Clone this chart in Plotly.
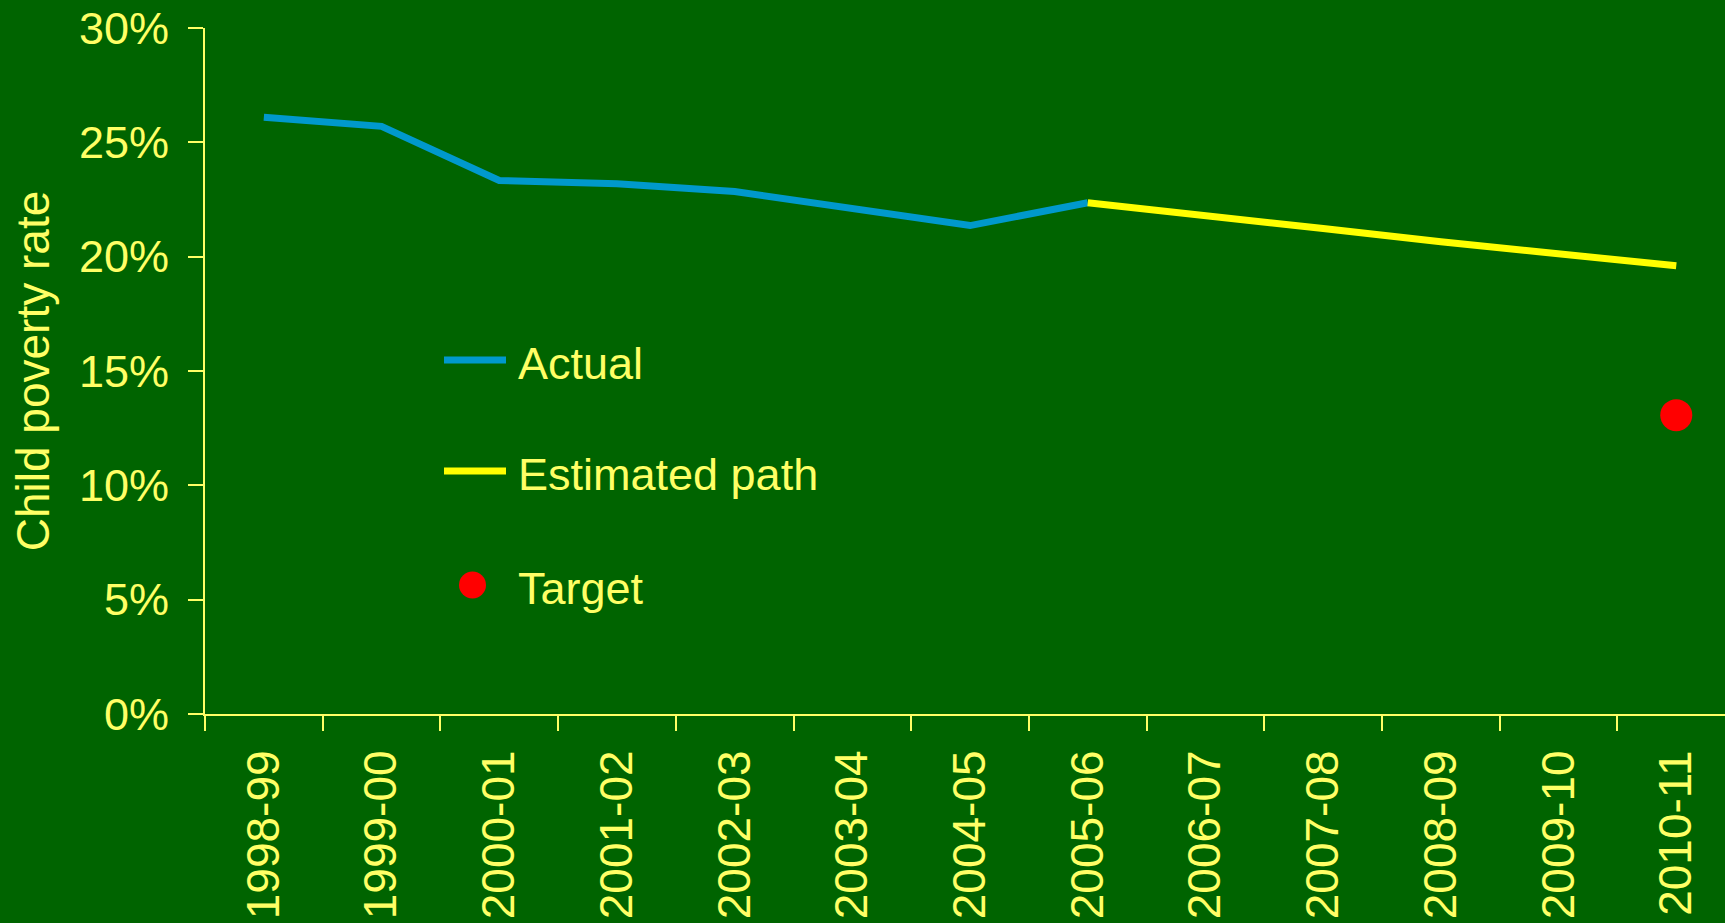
import plotly.graph_objects as go

# Années fiscales (axe des catégories)
annees = ["1998-99", "1999-00", "2000-01", "2001-02", "2002-03", "2003-04", "2004-05",
          "2005-06", "2006-07", "2007-08", "2008-09", "2009-10", "2010-11"]

# Taux réel, puis trajectoire estimée
annees_reel = annees[:8]
taux_reel = [0.261, 0.257, 0.2333, 0.2319, 0.2285, 0.221, 0.2136, 0.2236]

annees_estime = annees[7:]
taux_estime = [0.2236, 0.2176, 0.2123, 0.2065, 0.201, 0.196]

# Objectif 2010-11
annee_cible = ["2010-11"]
taux_cible = [0.1307]

JAUNE = "#FFFF66"
FOND = "#006400"
BLEU = "#0099CC"
JAUNE_VIF = "#FFFF00"
ROUGE = "#FF0000"
POLICE = "Liberation Sans, Arial, sans-serif"

# Zone de tracé en pixels (pour placer la légende faite main)
G, D, H, B = 205, 0, 28, 209
LARGEUR, HAUTEUR = 1725, 923


def px_x(x):
    return (x - G) / (LARGEUR - G - D)


def px_y(y):
    return (HAUTEUR - B - y) / (HAUTEUR - H - B)


fig = go.Figure()

fig.add_trace(go.Scatter(
    x=annees_reel, y=taux_reel,
    mode="lines",
    line=dict(color=BLEU, width=7),
    name="Actual",
))

fig.add_trace(go.Scatter(
    x=annees_estime, y=taux_estime,
    mode="lines",
    line=dict(color=JAUNE_VIF, width=7),
    name="Estimated path",
))

fig.add_trace(go.Scatter(
    x=annee_cible, y=taux_cible,
    mode="markers",
    marker=dict(color=ROUGE, size=32),
    name="Target",
))

# Légende faite main (les symboles de la légende Plotly sont trop petits)
legende = [("Actual", BLEU, "ligne", 360), ("Estimated path", JAUNE_VIF, "ligne", 471),
           ("Target", ROUGE, "point", 585)]
for texte, couleur, genre, yy in legende:
    if genre == "ligne":
        fig.add_shape(type="line", xref="paper", yref="paper",
                      x0=px_x(444), x1=px_x(506), y0=px_y(yy), y1=px_y(yy),
                      line=dict(color=couleur, width=7))
    else:
        fig.add_shape(type="circle", xref="paper", yref="paper",
                      x0=px_x(459), x1=px_x(486), y0=px_y(yy - 13.5), y1=px_y(yy + 13.5),
                      fillcolor=couleur, line=dict(width=0))
    fig.add_annotation(text=texte, xref="paper", yref="paper",
                       x=px_x(516), y=px_y(yy + 3), xanchor="left", yanchor="middle",
                       showarrow=False, font=dict(size=45, color=JAUNE))

fig.update_layout(
    width=LARGEUR,
    height=HAUTEUR,
    margin=dict(l=G, r=D, t=H, b=B),
    plot_bgcolor=FOND,
    paper_bgcolor=FOND,
    font=dict(family=POLICE, size=45, color=JAUNE),
    showlegend=False,
    xaxis=dict(
        type="category",
        categoryorder="array",
        categoryarray=annees,
        range=[-0.5, 12.414],
        tickson="boundaries",
        ticks="outside",
        ticklen=15,
        tickwidth=2,
        tickcolor=JAUNE,
        tickangle=-90,
        ticklabelstandoff=16,
        showline=True,
        linecolor=JAUNE,
        linewidth=2,
        showgrid=False,
        zeroline=False,
        tickfont=dict(size=46, color=JAUNE),
    ),
    yaxis=dict(
        range=[0, 0.30],
        dtick=0.05,
        tickformat=".0%",
        ticks="outside",
        ticklen=15,
        tickwidth=2,
        tickcolor=JAUNE,
        ticklabelstandoff=10,
        showline=True,
        linecolor=JAUNE,
        linewidth=2,
        showgrid=False,
        zeroline=False,
        tickfont=dict(size=45, color=JAUNE),
        title=dict(text="Child poverty rate", font=dict(size=46, color=JAUNE), standoff=15),
    ),
)

fig.write_html(
    "out.html",
    config={"displayModeBar": False},
    post_script="document.body.style.margin='0';document.body.style.overflow='hidden';"
                "document.body.style.background='" + FOND + "';",
)
